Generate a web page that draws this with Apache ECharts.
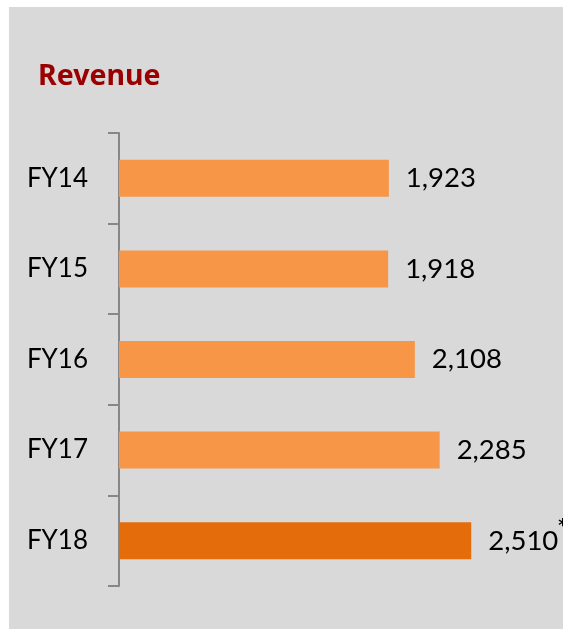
<!DOCTYPE html>
<html>
<head>
<meta charset="utf-8">
<script src="https://cdn.jsdelivr.net/npm/echarts@6/dist/echarts.min.js"></script>
<style>
html,body{margin:0;padding:0;background:#ffffff;width:563px;height:629px;overflow:hidden;}
#chart{position:absolute;left:9px;top:7px;width:554px;height:622px;}
</style>
</head>
<body>
<div id="chart"></div>
<script>
const categories = ['FY14', 'FY15', 'FY16', 'FY17', 'FY18'];
const revenue = [1923, 1918, 2108, 2285, 2510];
const titleText = 'Revenue';
const highlightIndex = 4;

const chart = echarts.init(document.getElementById('chart'), null, {renderer: 'canvas'});
const fmt = v => v.toLocaleString('en-US');

chart.setOption({
  backgroundColor: '#d9d9d9',
  animation: false,
  graphic: [{
    type: 'text',
    left: 29,
    top: 55,
    style: {
      text: titleText,
      fill: '#9a0000',
      font: 'bold 28.5px "Noto Sans"'
    }
  }],
  grid: {left: 110, top: 126, width: 421, height: 453, containLabel: false},
  xAxis: {
    type: 'value', min: 0, max: 3000, show: false
  },
  yAxis: {
    type: 'category',
    data: categories,
    inverse: true,
    axisLine: {show: true, lineStyle: {color: '#878787', width: 2}},
    axisTick: {show: true, length: 11, lineStyle: {color: '#878787', width: 2}},
    axisLabel: {margin: 31, color: '#000000', fontFamily: 'Lato', fontSize: 26},
    splitLine: {show: false}
  },
  series: [{
    type: 'bar',
    barWidth: 37,
    data: revenue.map((v, i) => ({
      value: v,
      itemStyle: {color: i === highlightIndex ? '#e46c0a' : '#f79646'}
    })),
    label: {
      show: true,
      position: 'right',
      distance: 17,
      color: '#000000',
      fontFamily: 'Lato',
      fontSize: 27.5,
      formatter: p => p.dataIndex === highlightIndex ? '{v|' + fmt(p.value) + '}{s|*}' : fmt(p.value),
      rich: {
        v: {fontFamily: 'Lato', fontSize: 27.5, color: '#000000'},
        s: {fontFamily: 'DejaVu Sans', fontSize: 17, fontWeight: 'bold', color: '#000000', padding: [0, 0, 28, 0]}
      }
    }
  }]
});
</script>
</body>
</html>
